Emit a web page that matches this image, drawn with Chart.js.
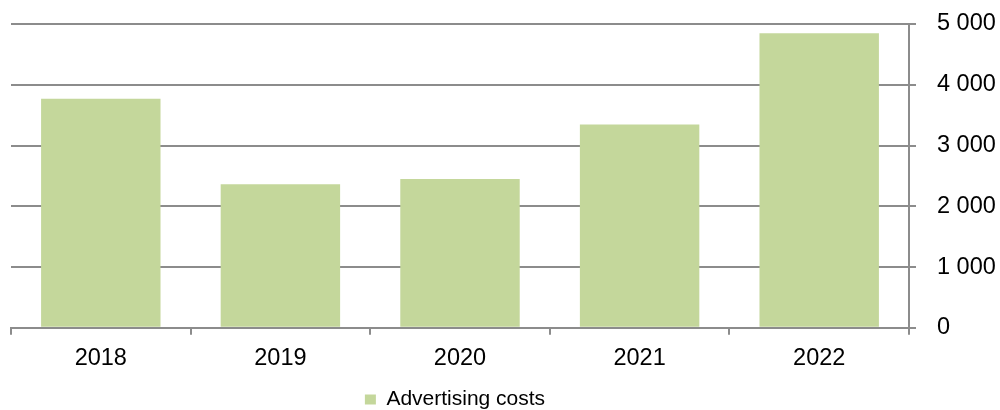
<!DOCTYPE html>
<html>
<head>
<meta charset="utf-8">
<script src="https://cdn.jsdelivr.net/npm/chart.js@4/dist/chart.umd.min.js"></script>
<style>
  html, body { margin: 0; padding: 0; background: #fff; }
  #wrap { width: 1000px; height: 410px; }
</style>
</head>
<body>
<div id="wrap"><canvas id="costsChart"></canvas></div>
<script>
const years = ['2018', '2019', '2020', '2021', '2022'];
const advertisingCosts = [3770, 2362, 2450, 3347, 4847];
const yTicks = [0, 1000, 2000, 3000, 4000, 5000];

const FONT = '"Liberation Sans", Arial, sans-serif';
const AXIS_GRAY = '#8c8c8c';

// thousands separated by a space: 5000 -> "5 000"
const spaced = (v) => String(v).replace(/\B(?=(\d{3})+(?!\d))/g, ' ');

// legend sits a little left of the plot centre
const legendNudge = {
  id: 'legendNudge',
  afterLayout(chart) {
    const lg = chart.legend;
    if (!lg) return;
    lg.left -= 5;
    lg.right -= 5;
  }
};

new Chart(document.getElementById('costsChart'), {
  type: 'bar',
  data: {
    labels: years,
    datasets: [{
      label: 'Advertising costs',
      data: advertisingCosts,
      backgroundColor: '#c4d79b',
      borderWidth: 0,
      categoryPercentage: 1,
      barPercentage: 0.665
    }]
  },
  plugins: [legendNudge],
  options: {
    responsive: true,
    maintainAspectRatio: false,
    animation: false,
    layout: { padding: { left: 11, right: 4, top: 24, bottom: -10 } },
    plugins: {
      tooltip: { enabled: false },
      legend: {
        position: 'bottom',
        fullSize: false,
        labels: {
          font: { family: FONT, size: 21 },
          color: '#000',
          boxWidth: 11,
          boxHeight: 10,
          padding: 6
        }
      }
    },
    scales: {
      x: {
        grid: {
          offset: true,
          drawOnChartArea: false,
          color: AXIS_GRAY,
          lineWidth: 2,
          tickLength: 7
        },
        border: { color: AXIS_GRAY, width: 2 },
        ticks: {
          font: { family: FONT, size: 23.5 },
          color: '#000',
          padding: 10
        }
      },
      y: {
        position: 'right',
        min: 0,
        max: 5000,
        afterBuildTicks: (axis) => { axis.ticks = yTicks.map(v => ({ value: v })); },
        afterFit: (axis) => {
          // fixed label column, and don't let the tick padding push the plot down
          axis.width = 87;
          axis.paddingTop = 10;
          axis.paddingBottom = 10;
        },
        grid: {
          color: AXIS_GRAY,
          lineWidth: 2,
          tickLength: 7
        },
        border: { color: AXIS_GRAY, width: 2 },
        ticks: {
          font: { family: FONT, size: 23.5 },
          color: '#000',
          padding: 21,
          callback: (v) => spaced(v)
        }
      }
    }
  }
});
</script>
</body>
</html>
